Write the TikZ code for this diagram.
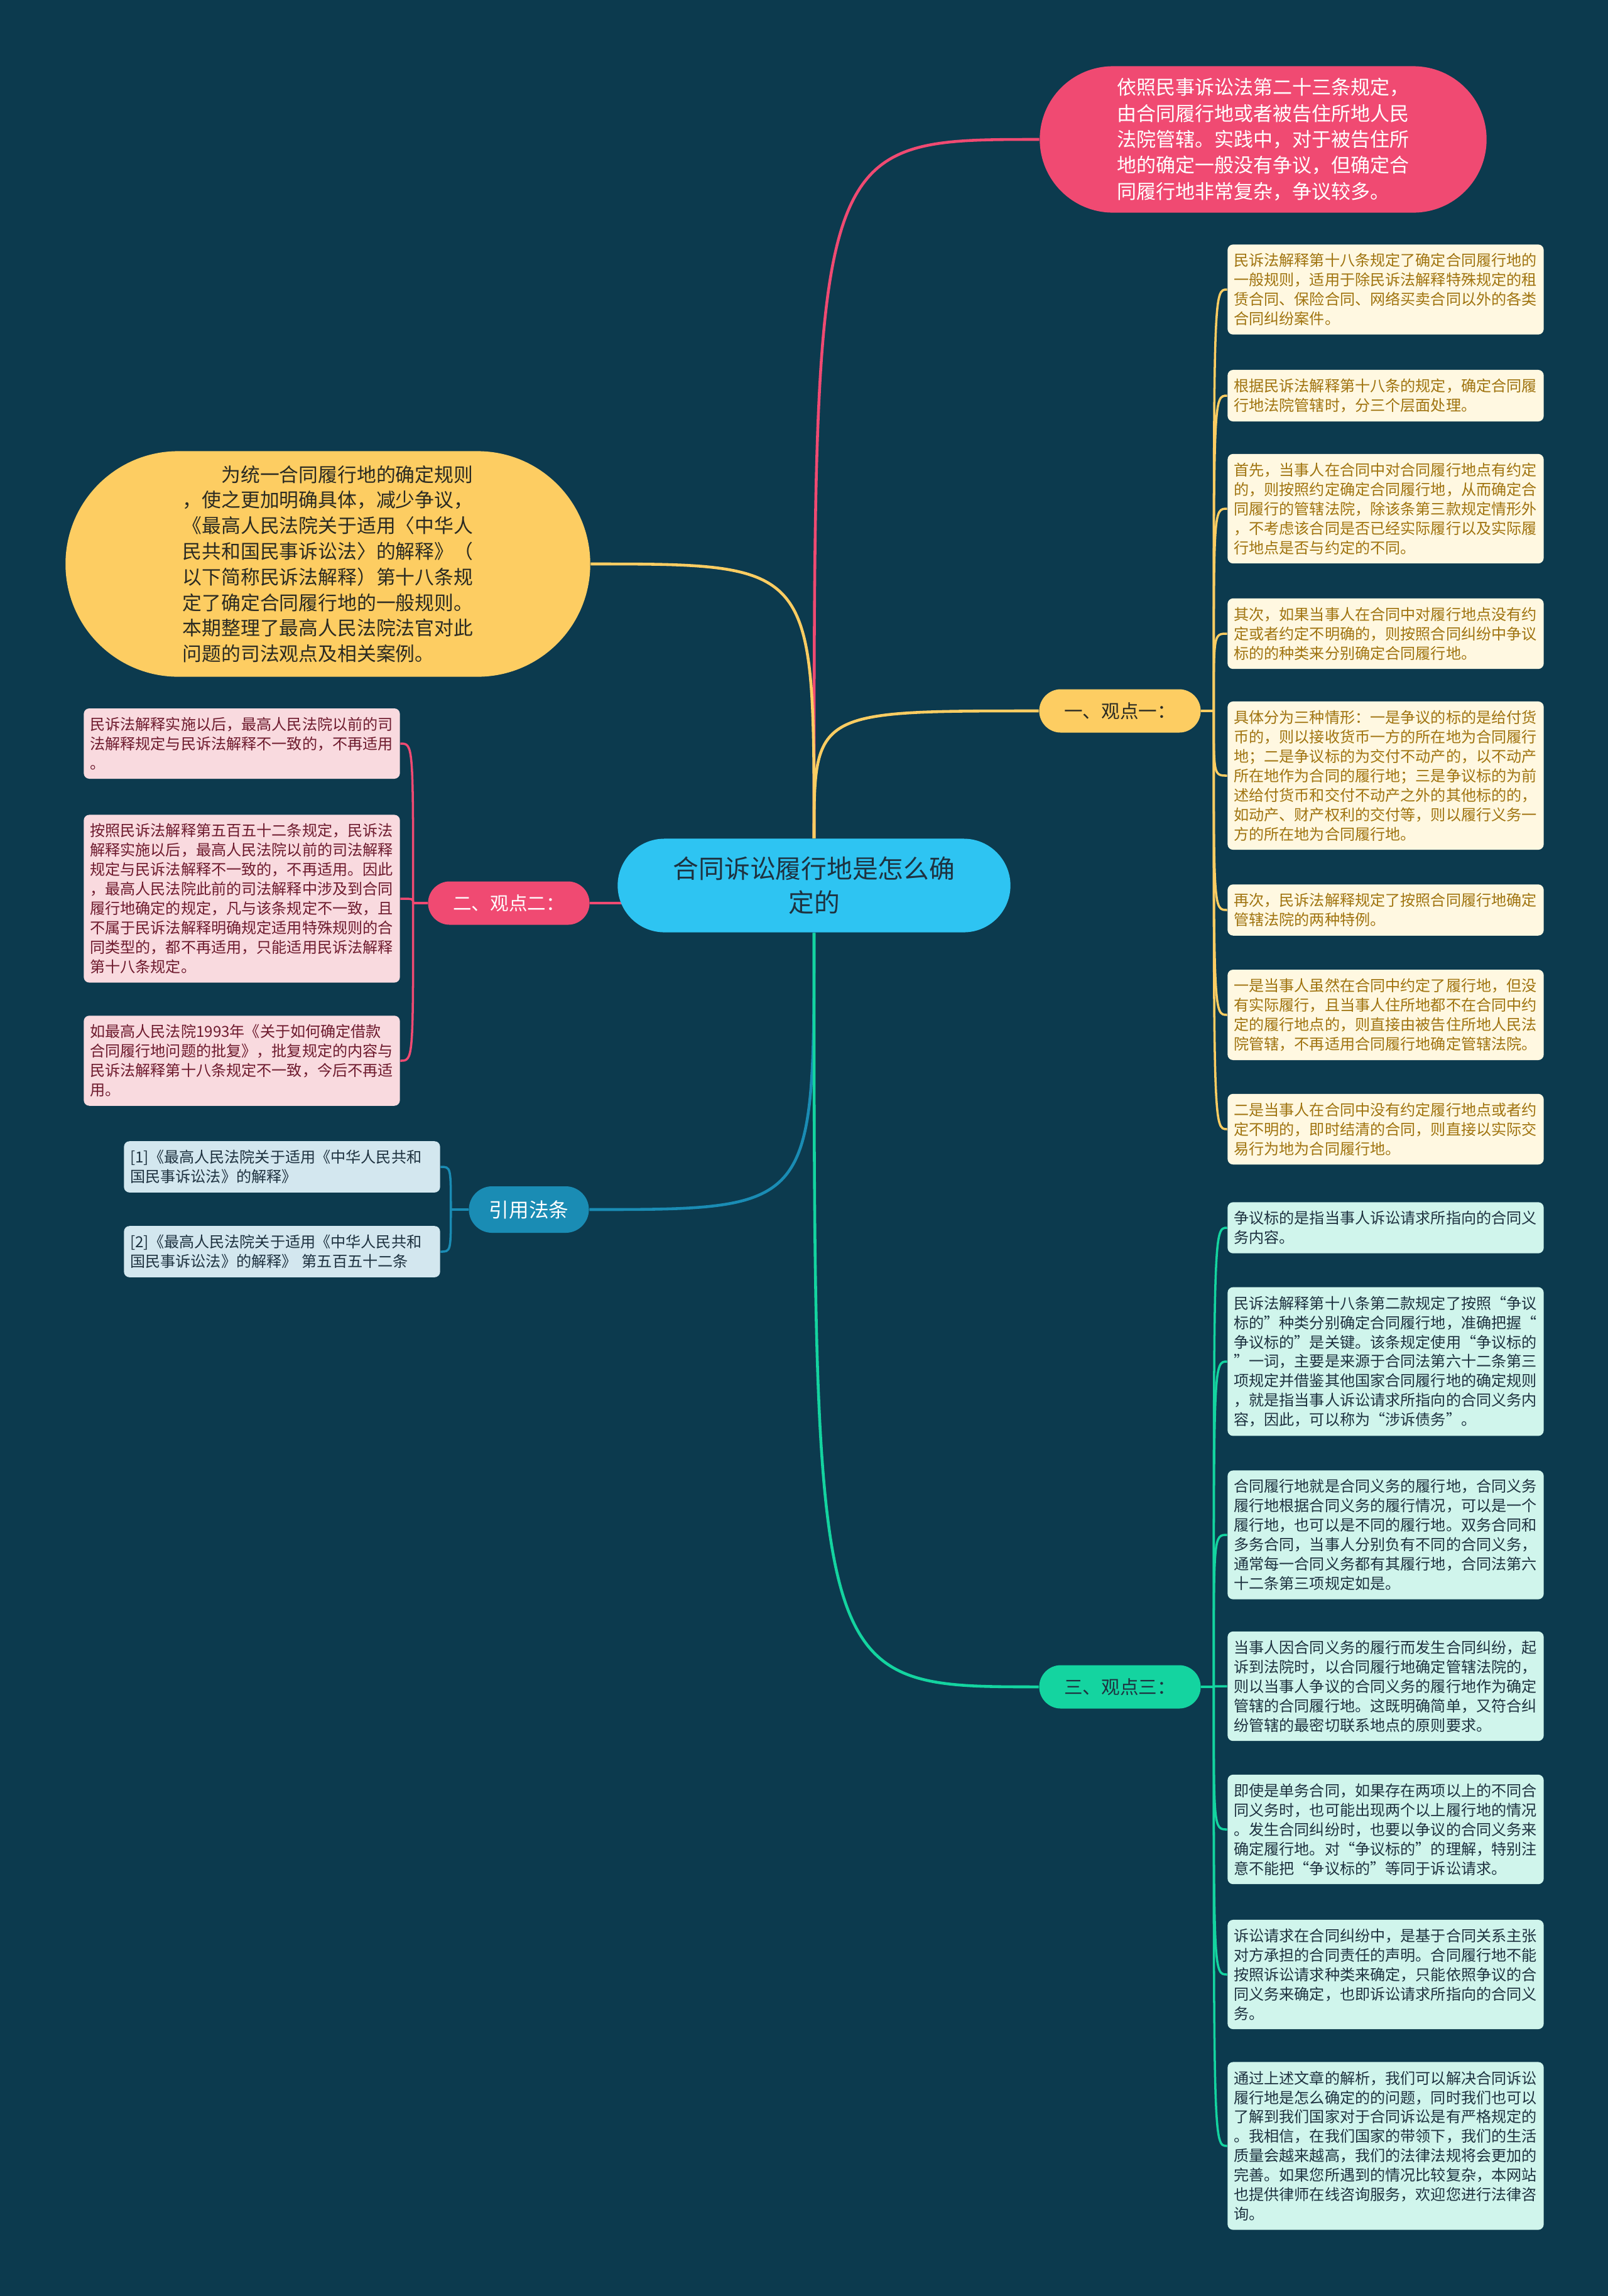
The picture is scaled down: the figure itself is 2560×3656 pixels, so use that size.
\documentclass[tikz,border=0pt]{standalone}
\usepackage{fontspec}
\setmainfont{Noto Sans CJK SC}
\usetikzlibrary{shapes.misc, backgrounds}
\definecolor{cbg}{HTML}{0C3A4E}
\definecolor{cpink}{HTML}{F04A72}
\definecolor{cyellow}{HTML}{FDCD62}
\definecolor{csky}{HTML}{2EC4F2}
\definecolor{cblue}{HTML}{1A8CB4}
\definecolor{cgreen}{HTML}{14D4A0}
\definecolor{ccream}{HTML}{FFF8E1}
\definecolor{cgold}{HTML}{A07410}
\definecolor{cmint}{HTML}{D0F5EC}
\definecolor{crose}{HTML}{F9DADF}
\definecolor{cwine}{HTML}{6E1B2E}
\definecolor{cice}{HTML}{D3E7EF}
\definecolor{cink}{HTML}{1E3240}
\definecolor{cdark}{HTML}{2A2A22}
\tikzset{
  every picture/.style={x=0.01cm, y=-0.01cm},
  pill/.style={rounded rectangle, fill=#1, inner sep=0pt},
  leaf/.style={fill=#1, rounded corners=2.5pt, align=left, text width=4.83cm, inner xsep=0.1cm, inner ysep=4pt, font=\fontsize{6.86}{8.8}\selectfont},
  yleaf/.style={leaf=ccream, text=cgold},
  gleaf/.style={leaf=cmint, text=cink},
  pleaf/.style={leaf=crose, text=cwine},
  bleaf/.style={leaf=cice, text=cink},
  branch/.style={pill=#1, minimum width=2.57cm, minimum height=0.69cm, font=\fontsize{8.4}{10}\selectfont},
  link/.style={draw=#1, line width=1.3pt},
  twig/.style={draw=#1, line width=1pt},
}

\begin{document}
\begin{tikzpicture}
  \node[pill=csky, minimum width=6.25cm, minimum height=1.49cm, text=cink, align=center, font=\fontsize{11.6}{15.3}\selectfont] (root) at (1296,1410) {合同诉讼履行地是怎么确\\定的};
  \node[pill=cpink, minimum width=7.11cm, minimum height=2.33cm, text=white, align=left, font=\fontsize{8.82}{11.78}\selectfont] (note) at (2011,222) {依照民事诉讼法第二十三条规定，\\由合同履行地或者被告住所地人民\\法院管辖。实践中，对于被告住所\\地的确定一般没有争议，但确定合\\同履行地非常复杂，争议较多。};
  \node[pill=cyellow, minimum width=8.35cm, minimum height=3.59cm, text=cdark, align=left, font=\fontsize{8.76}{11.6}\selectfont] (intro) at (522,898) {\hspace*{2em}为统一合同履行地的确定规则\\，使之更加明确具体，减少争议，\\《最高人民法院关于适用〈中华人\\民共和国民事诉讼法〉的解释》（\\以下简称民诉法解释）第十八条规\\定了确定合同履行地的一般规则。\\本期整理了最高人民法院法官对此\\问题的司法观点及相关案例。};

  \node[branch=cyellow, text=cdark] (g1) at (1783,1132) {一、观点一：};
  \node[branch=cpink, text=white] (g2) at (810,1438) {二、观点二：};
  \node[pill=cblue, minimum width=1.91cm, minimum height=0.74cm, text=white, font=\fontsize{9}{11}\selectfont] (cite) at (842,1926) {引用法条};
  \node[branch=cgreen, text=cink] (g3) at (1783,2686) {三、观点三：};

  \node[yleaf] (y1) at (2206,461) {民诉法解释第十八条规定了确定合同履行地的\\一般规则，适用于除民诉法解释特殊规定的租\\赁合同、保险合同、网络买卖合同以外的各类\\合同纠纷案件。};
  \node[yleaf] (y2) at (2206,630) {根据民诉法解释第十八条的规定，确定合同履\\行地法院管辖时，分三个层面处理。};
  \node[yleaf] (y3) at (2206,810) {首先，当事人在合同中对合同履行地点有约定\\的，则按照约定确定合同履行地，从而确定合\\同履行的管辖法院，除该条第三款规定情形外\\，不考虑该合同是否已经实际履行以及实际履\\行地点是否与约定的不同。};
  \node[yleaf] (y4) at (2206,1009) {其次，如果当事人在合同中对履行地点没有约\\定或者约定不明确的，则按照合同纠纷中争议\\标的的种类来分别确定合同履行地。};
  \node[yleaf] (y5) at (2206,1235) {具体分为三种情形：一是争议的标的是给付货\\币的，则以接收货币一方的所在地为合同履行\\地；二是争议标的为交付不动产的，以不动产\\所在地作为合同的履行地；三是争议标的为前\\述给付货币和交付不动产之外的其他标的的，\\如动产、财产权利的交付等，则以履行义务一\\方的所在地为合同履行地。};
  \node[yleaf] (y6) at (2206,1449) {再次，民诉法解释规定了按照合同履行地确定\\管辖法院的两种特例。};
  \node[yleaf] (y7) at (2206,1616) {一是当事人虽然在合同中约定了履行地，但没\\有实际履行，且当事人住所地都不在合同中约\\定的履行地点的，则直接由被告住所地人民法\\院管辖，不再适用合同履行地确定管辖法院。};
  \node[yleaf] (y8) at (2206,1798) {二是当事人在合同中没有约定履行地点或者约\\定不明的，即时结清的合同，则直接以实际交\\易行为地为合同履行地。};

  \node[pleaf] (p1) at (385,1184) {民诉法解释实施以后，最高人民法院以前的司\\法解释规定与民诉法解释不一致的，不再适用\\。};
  \node[pleaf] (p2) at (385,1431) {按照民诉法解释第五百五十二条规定，民诉法\\解释实施以后，最高人民法院以前的司法解释\\规定与民诉法解释不一致的，不再适用。因此\\，最高人民法院此前的司法解释中涉及到合同\\履行地确定的规定，凡与该条规定不一致，且\\不属于民诉法解释明确规定适用特殊规则的合\\同类型的，都不再适用，只能适用民诉法解释\\第十八条规定。};
  \node[pleaf] (p3) at (385,1689) {如最高人民法院1993年《关于如何确定借款\\合同履行地问题的批复》，批复规定的内容与\\民诉法解释第十八条规定不一致，今后不再适\\用。};

  \node[bleaf] (b1) at (449,1858) {[1]《最高人民法院关于适用《中华人民共和\\国民事诉讼法》的解释》};
  \node[bleaf] (b2) at (449,1993) {[2]《最高人民法院关于适用《中华人民共和\\国民事诉讼法》的解释》 第五百五十二条};

  \node[gleaf] (m1) at (2206,1955) {争议标的是指当事人诉讼请求所指向的合同义\\务内容。};
  \node[gleaf] (m2) at (2206,2168) {民诉法解释第十八条第二款规定了按照“争议\\标的”种类分别确定合同履行地，准确把握“\\争议标的”是关键。该条规定使用“争议标的\\”一词，主要是来源于合同法第六十二条第三\\项规定并借鉴其他国家合同履行地的确定规则\\，就是指当事人诉讼请求所指向的合同义务内\\容，因此，可以称为“涉诉债务”。};
  \node[gleaf] (m3) at (2206,2444) {合同履行地就是合同义务的履行地，合同义务\\履行地根据合同义务的履行情况，可以是一个\\履行地，也可以是不同的履行地。双务合同和\\多务合同，当事人分别负有不同的合同义务，\\通常每一合同义务都有其履行地，合同法第六\\十二条第三项规定如是。};
  \node[gleaf] (m4) at (2206,2685) {当事人因合同义务的履行而发生合同纠纷，起\\诉到法院时，以合同履行地确定管辖法院的，\\则以当事人争议的合同义务的履行地作为确定\\管辖的合同履行地。这既明确简单，又符合纠\\纷管辖的最密切联系地点的原则要求。};
  \node[gleaf] (m5) at (2206,2913) {即使是单务合同，如果存在两项以上的不同合\\同义务时，也可能出现两个以上履行地的情况\\。发生合同纠纷时，也要以争议的合同义务来\\确定履行地。对“争议标的”的理解，特别注\\意不能把“争议标的”等同于诉讼请求。};
  \node[gleaf] (m6) at (2206,3144) {诉讼请求在合同纠纷中，是基于合同关系主张\\对方承担的合同责任的声明。合同履行地不能\\按照诉讼请求种类来确定，只能依照争议的合\\同义务来确定，也即诉讼请求所指向的合同义\\务。};
  \node[gleaf] (m7) at (2206,3417) {通过上述文章的解析，我们可以解决合同诉讼\\履行地是怎么确定的的问题，同时我们也可以\\了解到我们国家对于合同诉讼是有严格规定的\\。我相信，在我们国家的带领下，我们的生活\\质量会越来越高，我们的法律法规将会更加的\\完善。如果您所遇到的情况比较复杂，本网站\\也提供律师在线咨询服务，欢迎您进行法律咨\\询。};

  \path (g1.east) ++(20,0) coordinate (j1);
  \path (g2.west) ++(-23,0) coordinate (j2);
  \path (cite.west) ++(-28,0) coordinate (j4);
  \path (g3.east) ++(20,0) coordinate (j3);

  \begin{scope}[on background layer]
    \fill[cbg] (0,0) rectangle (2560,3656);
    \draw[link=cpink] (root.north) .. controls (root.north |- note.west) .. (note.west);
    \draw[link=cyellow] (root.north) .. controls (root.north |- intro.east) .. (intro.east);
    \draw[link=cyellow] (root.north) .. controls (root.north |- g1.west) .. (g1.west);
    \draw[link=cpink] (root.center |- g2.east) -- (g2.east);
    \draw[link=cblue] (root.south) .. controls (root.south |- cite.east) .. (cite.east);
    \draw[link=cgreen] (root.south) .. controls (root.south |- g3.west) .. (g3.west);

    \draw[twig=cyellow] (g1.east) -- (j1);
    \draw[twig=cyellow] (j1) .. controls (j1 |- y1.west) .. (y1.west);
    \draw[twig=cyellow] (j1) .. controls (j1 |- y2.west) .. (y2.west);
    \draw[twig=cyellow] (j1) .. controls (j1 |- y3.west) .. (y3.west);
    \draw[twig=cyellow] (j1) .. controls (j1 |- y4.west) .. (y4.west);
    \draw[twig=cyellow] (j1) .. controls (j1 |- y5.west) .. (y5.west);
    \draw[twig=cyellow] (j1) .. controls (j1 |- y6.west) .. (y6.west);
    \draw[twig=cyellow] (j1) .. controls (j1 |- y7.west) .. (y7.west);
    \draw[twig=cyellow] (j1) .. controls (j1 |- y8.west) .. (y8.west);

    \draw[twig=cpink] (g2.west) -- (j2);
    \draw[twig=cpink] (j2) .. controls (j2 |- p1.east) .. (p1.east);
    \draw[twig=cpink] (j2) .. controls (j2 |- p2.east) .. (p2.east);
    \draw[twig=cpink] (j2) .. controls (j2 |- p3.east) .. (p3.east);

    \draw[twig=cblue] (cite.west) -- (j4);
    \draw[twig=cblue] (j4) .. controls (j4 |- b1.east) .. (b1.east);
    \draw[twig=cblue] (j4) .. controls (j4 |- b2.east) .. (b2.east);

    \draw[twig=cgreen] (g3.east) -- (j3);
    \draw[twig=cgreen] (j3) .. controls (j3 |- m1.west) .. (m1.west);
    \draw[twig=cgreen] (j3) .. controls (j3 |- m2.west) .. (m2.west);
    \draw[twig=cgreen] (j3) .. controls (j3 |- m3.west) .. (m3.west);
    \draw[twig=cgreen] (j3) .. controls (j3 |- m4.west) .. (m4.west);
    \draw[twig=cgreen] (j3) .. controls (j3 |- m5.west) .. (m5.west);
    \draw[twig=cgreen] (j3) .. controls (j3 |- m6.west) .. (m6.west);
    \draw[twig=cgreen] (j3) .. controls (j3 |- m7.west) .. (m7.west);
  \end{scope}
\end{tikzpicture}
\end{document}
